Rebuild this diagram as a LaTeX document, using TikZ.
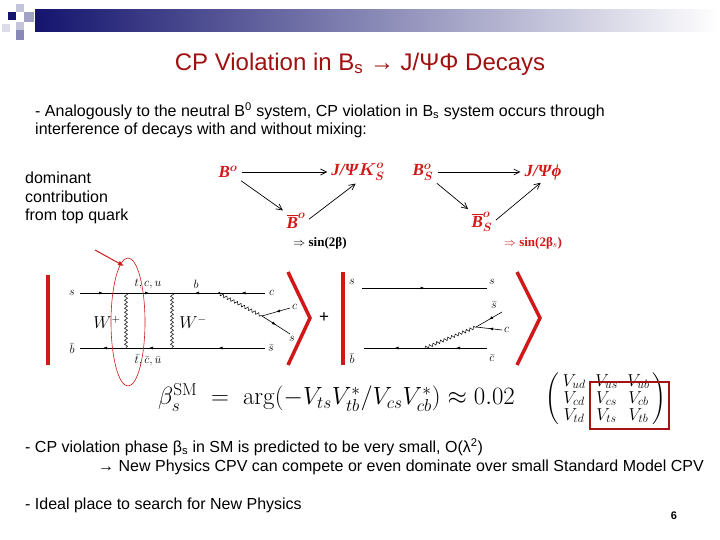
\documentclass[tikz,border=0pt]{standalone}
\usepackage{amsmath}
\usepackage[no-math]{fontspec}
\setmainfont{Liberation Sans}
\newfontfamily\trifont{Liberation Serif}
\usetikzlibrary{decorations.pathmorphing,decorations.markings,arrows.meta,shapes.geometric}
\definecolor{titlered}{HTML}{A01010}
\definecolor{brightred}{HTML}{D01818}
\definecolor{navy}{HTML}{14146E}
\begin{document}
\begin{tikzpicture}[x=1pt,y=-1pt,
  txt/.style={anchor=west,inner sep=0,font=\fontsize{16}{18.5}\selectfont},
  tri/.style={inner sep=1pt,text=brightred,font=\trifont\bfseries\itshape\fontsize{17}{19}\selectfont},
  triarr/.style={-{Straight Barb[length=6pt,width=6pt]},line width=0.7pt,shorten >=3pt,shorten <=3pt},
  fl/.style={line width=0.6pt,postaction={decorate},decoration={markings,mark=at position 0.5 with {\arrow{Latex[length=4pt,width=3pt]}}}},
  flr/.style={line width=0.6pt,postaction={decorate},decoration={markings,mark=at position 0.5 with {\arrowreversed{Latex[length=4pt,width=3pt]}}}},
  wig/.style={line width=0.5pt,decorate,decoration={snake,amplitude=1.5pt,segment length=4pt}},
  fey/.style={inner sep=1pt,font=\fontsize{13}{15}\selectfont},
  redbar/.style={draw=brightred,line width=3.5pt}]
\useasboundingbox (0,0) rectangle (720,540);
% header
\shade[left color=navy,right color=white] (35,10) rectangle (720,32);
\fill[navy] (8,12) rectangle (16,20);
\fill[navy!25] (16,4) rectangle (24,12);
\fill[navy!40] (24,12) rectangle (34,22);
\fill[navy!25] (16,22) rectangle (24,30);
\fill[navy!50] (16,30) rectangle (24,40);
\fill[navy!15] (2,24) rectangle (10,32);
\node[font=\fontsize{24}{28}\selectfont,text=titlered] (title) at (360,64) {CP Violation in B\textsubscript{s} → J/ΨΦ Decays};
\node[txt] (t1) at (35,111) {- Analogously to the neutral B\textsuperscript{0} system, CP violation in B\textsubscript{s} system occurs through};
\node[txt] (t2) at (35,130) {interference of decays with and without mixing:};
\node[txt,align=left,anchor=north west] (dom) at (25,172) {dominant\\[0pt]contribution\\[0pt]from top quark};
% triangles
\node[tri] (B0) at (228,172) {B$^{\boldsymbol o}$};
\node[tri] (JK) at (358,172) {J/Ψ$\boldsymbol{K^o_S}$};
\node[tri] (B0b) at (296,221) {$\overline{\mbox{B}}^{\boldsymbol o}$};
\draw[triarr] (B0) -- (JK);
\draw[triarr] (B0.south east) -- (B0b.north west);
\draw[triarr] (B0b.east) -- (JK.south);
\node[font=\trifont\bfseries\fontsize{13}{15}\selectfont] (s1) at (320,243) {$\Rightarrow$ sin(2β)};
\node[tri] (Bs) at (423,172) {B$^{\boldsymbol o}_{\boldsymbol S}$};
\node[tri] (JP) at (543,172) {J/Ψϕ};
\node[tri] (Bsb) at (482,222) {$\overline{\mbox{B}}^{\boldsymbol o}_{\boldsymbol S}$};
\draw[triarr] (Bs) -- (JP);
\draw[triarr] (Bs.south east) -- (Bsb.north west);
\draw[triarr] (Bsb.east) -- (JP.south);
\node[font=\trifont\bfseries\fontsize{13}{15}\selectfont,text=brightred] (s2) at (533,243) {$\Rightarrow$ sin(2β$_s$)};
% box diagram
\draw[redbar] (48,275) -- (48,365);
\coordinate (a1) at (80,293); \coordinate (a2) at (126,293); \coordinate (a3) at (172,293); \coordinate (a4) at (218,293); \coordinate (a5) at (265,293);
\coordinate (b1) at (80,348); \coordinate (b2) at (126,348); \coordinate (b3) at (172,348); \coordinate (b5) at (265,348);
\coordinate (v) at (262,316); \coordinate (c2) at (290,308); \coordinate (s3) at (290,334);
\draw[fl] (a1) -- (a2); \draw[fl] (a2) -- (a3); \draw[flr] (a3) -- (a4); \draw[flr] (a4) -- (a5);
\draw[flr] (b1) -- (b2); \draw[flr] (b2) -- (b3); \draw[flr] (b3) -- (b5);
\draw[wig] (a2) -- (b2); \draw[wig] (a3) -- (b3); \draw[wig] (a4) -- (v);
\draw[flr] (v) -- (c2); \draw[fl] (v) -- (s3);
\node[fey] (ls) at (72,293) {$s$}; \node[fey] (lb) at (72,349) {$\bar b$};
\node[fey] (ltcu) at (148,284) {$t, c, u$}; \node[fey] (lbb) at (196,284) {$b$};
\node[fey] (ltcub) at (148,360) {$\bar t, \bar c, \bar u$};
\node[fey,font=\fontsize{16}{18}\selectfont] (lwp) at (107,322) {$W^+$}; \node[fey,font=\fontsize{16}{18}\selectfont] (lwm) at (193,322) {$W^-$};
\node[fey,anchor=west] (lc1) at (268,293) {$c$}; \node[fey,anchor=west] (lc2) at (291,307) {$c$};
\node[fey,anchor=west] (ls3) at (288,339) {$s$}; \node[fey,anchor=west] (lsb) at (267,348) {$\bar s$};
\draw[redbar] (288,272) -- (310,318) -- (288,365);
\draw[draw=brightred,line width=0.6pt] (128,322) ellipse [x radius=17,y radius=64];
\draw[-{Latex[length=6pt,width=5pt]},draw=brightred,line width=1pt] (95,250) -- (124,266);
\node[font=\fontsize{17}{19}\selectfont] (plus) at (324,318) {+};
% tree diagram
\draw[redbar] (343,272) -- (343,365);
\coordinate (p1) at (362,288); \coordinate (p2) at (487,288);
\coordinate (q1) at (364,348); \coordinate (q2) at (487,348); \coordinate (qw) at (425,348);
\coordinate (w2) at (476,327); \coordinate (sb) at (502,312); \coordinate (cc) at (502,330);
\draw[fl] (p1) -- (p2);
\draw[flr] (q1) -- (qw); \draw[flr] (qw) -- (q2);
\draw[wig] (qw) -- (w2);
\draw[flr] (w2) -- (sb); \draw[flr] (w2) -- (cc);
\node[fey] (rs1) at (352,282) {$s$}; \node[fey] (rs2) at (492,282) {$s$};
\node[fey] (rb) at (352,359) {$\bar b$}; \node[fey] (rcb) at (492,358) {$\bar c$};
\node[fey] (rsb) at (494,305) {$\bar s$}; \node[fey,anchor=west] (rc) at (503,330) {$c$};
\draw[redbar] (517,272) -- (540,318) -- (517,365);
% formula
\node[anchor=west,inner sep=0,font=\fontsize{23}{27}\selectfont] (form) at (158,398) {$\beta_s^{\mathrm{SM}}\;=\;\arg(-V_{ts}V_{tb}^*/V_{cs}V_{cb}^*)\approx 0.02$};
\node[inner sep=0,font=\fontsize{17}{20}\selectfont] (ckm) at (606,399) {$\left(\begin{array}{@{\,}c@{\;\;}c@{\;\;}c@{\,}} V_{ud} & V_{us} & V_{ub}\\[-3pt] V_{cd} & V_{cs} & V_{cb}\\[-3pt] V_{td} & V_{ts} & V_{tb}\end{array}\right)$};
\draw[draw=brightred!80!black,line width=1.2pt] (590,382) rectangle (669,429);
% bottom
\node[txt] (b1t) at (25,447) {- CP violation phase β\textsubscript{s} in SM is predicted to be very small, O(λ\textsuperscript{2})};
\node[txt] (b2t) at (98,467) {→ New Physics CPV can compete or even dominate over small Standard Model CPV};
\node[txt] (b3t) at (25,505) {- Ideal place to search for New Physics};
\node[font=\bfseries\fontsize{11}{13}\selectfont] (pg) at (674,516) {6};
\end{tikzpicture}
\end{document}
